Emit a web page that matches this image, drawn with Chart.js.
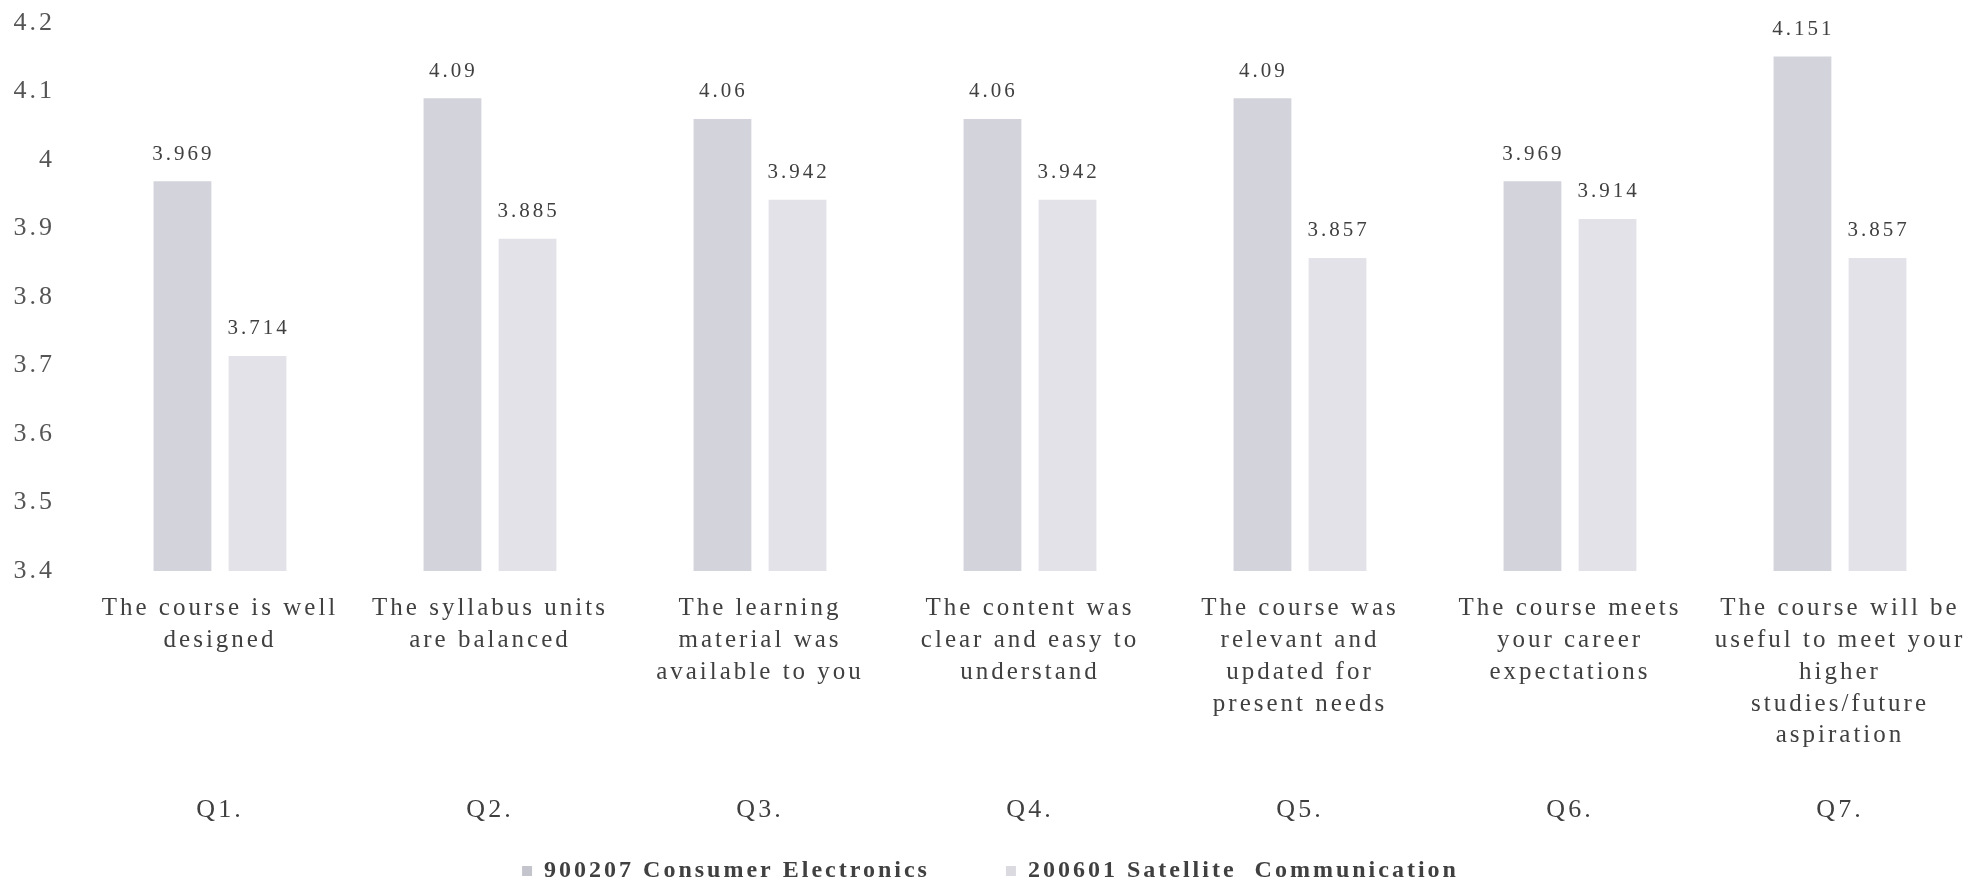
<!DOCTYPE html>
<html>
<head>
<meta charset="utf-8">
<script src="https://cdn.jsdelivr.net/npm/chart.js@4.4.0/dist/chart.umd.min.js"></script>
<style>
  html, body { margin: 0; padding: 0; background: #fff; }
  #wrap { width: 1986px; height: 886px; }
</style>
</head>
<body>
<div id="wrap"><canvas id="chart"></canvas></div>
<script>
const questionCodes = ["Q1.", "Q2.", "Q3.", "Q4.", "Q5.", "Q6.", "Q7."];
const questionLabels = [
  ["The course is well", "designed"],
  ["The syllabus units", "are balanced"],
  ["The learning", "material was", "available to you"],
  ["The content was", "clear and easy to", "understand"],
  ["The course was", "relevant and", "updated for", "present needs"],
  ["The course meets", "your career", "expectations"],
  ["The course will be", "useful to meet your", "higher", "studies/future", "aspiration"]
];
const seriesNames = ["900207 Consumer Electronics", "200601 Satellite  Communication"];
const consumerElectronics = [3.969, 4.09, 4.06, 4.06, 4.09, 3.969, 4.151];
const satelliteCommunication = [3.714, 3.885, 3.942, 3.942, 3.857, 3.914, 3.857];
const yMin = 3.4;
const yMax = 4.2;
const yStep = 0.1;

const serif = "'Liberation Serif', 'DejaVu Serif', serif";
const textColor = "#404040";

// scanned text looks spread out, so widen the letters a bit everywhere
const spacing = {
  id: "spacing",
  beforeLayout(chart) { chart.ctx.letterSpacing = "3px"; },
  beforeDraw(chart) { chart.ctx.letterSpacing = "3px"; }
};

// numbers above each bar
const valueLabels = {
  id: "valueLabels",
  afterDatasetsDraw(chart) {
    const ctx = chart.ctx;
    ctx.save();
    ctx.font = "21px " + serif;
    ctx.fillStyle = textColor;
    ctx.textAlign = "center";
    ctx.textBaseline = "middle";
    chart.data.datasets.forEach((ds, i) => {
      chart.getDatasetMeta(i).data.forEach((bar, j) => {
        ctx.fillText(String(ds.data[j]), bar.x + 1, bar.y - 27);
      });
    });
    ctx.restore();
  }
};

// fixed axis boxes so the layout matches the picture
const fixHeight = (h) => (scale) => {
  scale.paddingLeft = 0;
  scale.paddingRight = 0;
  scale.height = h;
};

const ctx = document.getElementById("chart").getContext("2d");
new Chart(ctx, {
  type: "bar",
  data: {
    labels: questionLabels,
    datasets: [
      {
        label: seriesNames[0],
        data: consumerElectronics,
        backgroundColor: "#d3d3dc",
        categoryPercentage: 0.556,
        barPercentage: 0.77,
      },
      {
        label: seriesNames[1],
        data: satelliteCommunication,
        backgroundColor: "#e2e2e8",
        categoryPercentage: 0.556,
        barPercentage: 0.77,
      },
    ],
  },
  options: {
    responsive: true,
    maintainAspectRatio: false,
    animation: false,
    layout: {
      padding: { left: 6, right: 11, top: 23, bottom: -7 },
    },
    plugins: {
      legend: {
        position: "bottom",
        labels: {
          boxWidth: 10,
          boxHeight: 10,
          padding: 4,
          color: textColor,
          font: { size: 24, family: serif, weight: "bold" },
          generateLabels(chart) {
            const items = Chart.defaults.plugins.legend.labels.generateLabels(chart);
            items[0].text = items[0].text + "\u2003\u2003  ";
            items.forEach((it, i) => {
              it.fillStyle = i === 0 ? "#c4c4cc" : "#dadae0";
              it.strokeStyle = "rgba(0,0,0,0)";
              it.lineWidth = 0;
            });
            return items;
          },
        },
      },
      tooltip: { enabled: false },
    },
    scales: {
      x: {
        type: "category",
        position: "bottom",
        weight: 0,
        grid: { display: false, drawTicks: false },
        border: { display: false },
        afterFit: fixHeight(181),
        ticks: {
          padding: 22,
          maxRotation: 0,
          autoSkip: false,
          color: textColor,
          font: { size: 25, family: serif, lineHeight: 1.268 },
        },
      },
      xq: {
        type: "category",
        position: "bottom",
        labels: questionCodes,
        offset: true,
        weight: 1,
        grid: { display: false, drawTicks: false },
        border: { display: false },
        afterFit: fixHeight(103),
        ticks: {
          padding: 45,
          maxRotation: 0,
          autoSkip: false,
          color: textColor,
          font: { size: 26, family: serif, lineHeight: 1.0 },
        },
      },
      y: {
        min: yMin,
        max: yMax,
        grid: { display: false },
        border: { display: false },
        afterFit(scale) {
          scale.paddingTop = 0;
          scale.paddingBottom = 0;
          scale.width = 79;
        },
        ticks: {
          stepSize: yStep,
          padding: 22,
          color: "#555",
          font: { size: 26, family: serif },
          callback: (v) => String(Number(v.toFixed(1))),
        },
      },
    },
  },
  plugins: [spacing, valueLabels],
});
</script>
</body>
</html>
